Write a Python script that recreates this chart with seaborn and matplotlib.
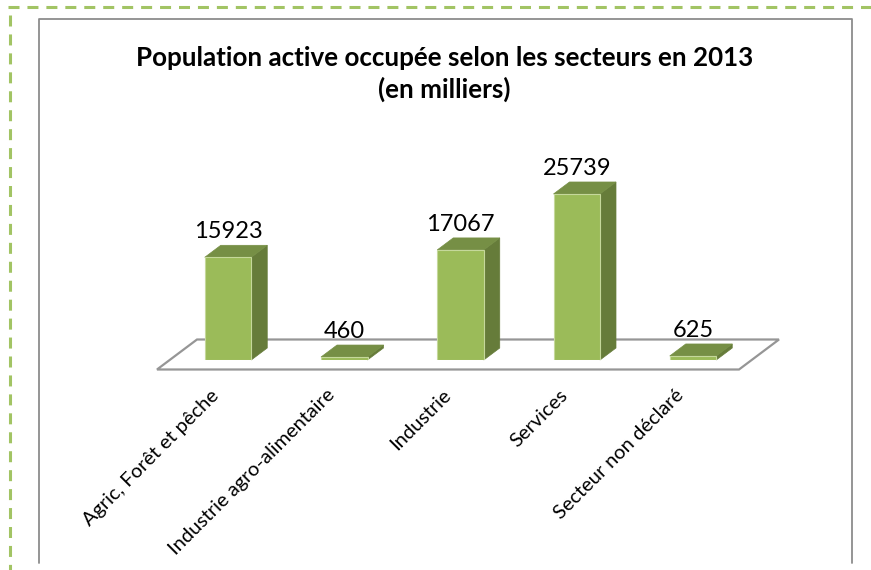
import matplotlib
matplotlib.use("Agg")
import matplotlib.pyplot as plt
from matplotlib.lines import Line2D
from matplotlib.patches import Polygon
from matplotlib.transforms import ScaledTranslation
import seaborn as sns
import pandas as pd

categories = ["Agric, Forêt et pêche", "Industrie agro-alimentaire", "Industrie", "Services", "Secteur non déclaré"]
values = [15923, 460, 17067, 25739, 625]
title = "Population active occupée selon les secteurs en 2013\n(en milliers)"

W, H = 871, 570
sns.set_theme(style="white")
plt.rcParams["font.family"] = ["Lato", "DejaVu Sans"]

fig = plt.figure(figsize=(W / 100, H / 100), dpi=100, facecolor="white")
PX_PER_CAT = 116.25
PX_PER_UNIT = 0.00645
left = 228 - 0.5 * PX_PER_CAT
ax = fig.add_axes([left / W, (H - 360) / H, 5 * PX_PER_CAT / W, 341.5 / H])
ax.patch.set_alpha(0)

df = pd.DataFrame({"secteur": categories, "valeur": values})
sns.barplot(data=df, x="secteur", y="valeur", color="#9BBB59", saturation=1, width=0.4,
            edgecolor="#C5D89B", linewidth=0.8, ax=ax, zorder=3)
ax.set_xlim(-0.5, 4.5)
ax.set_ylim(0, 341.5 / PX_PER_UNIT)
ax.set_xlabel("")
ax.set_ylabel("")
ax.set_yticks([])
for s in ax.spines.values():
    s.set_visible(False)
ax.tick_params(axis="x", length=0, pad=19)
ax.set_xticks(range(len(categories)))
ax.set_xticklabels(categories, rotation=45, ha="right", rotation_mode="anchor",
                   fontsize=14.4, color="black")
shift = ScaledTranslation(-18 / 100, 0, fig.dpi_scale_trans)
for lab in ax.get_xticklabels():
    lab.set_transform(lab.get_transform() + shift)

# depth of the pseudo-3D projection, in data units
dx = 16 / PX_PER_CAT
dy = 12 / PX_PER_UNIT

# floor
fx0 = (157 - 228) / PX_PER_CAT
fx1 = (739 - 228) / PX_PER_CAT
fy0 = -9.5 / PX_PER_UNIT
fdx = 40 / PX_PER_CAT
fdy = 30 / PX_PER_UNIT
ax.add_patch(Polygon([(fx0, fy0), (fx1, fy0), (fx1 + fdx, fy0 + fdy), (fx0 + fdx, fy0 + fdy)],
                     closed=True, facecolor="white", edgecolor="#969696", linewidth=1.6,
                     zorder=1, clip_on=False))

for bar, val in zip(ax.patches[:len(values)], values):
    x0 = bar.get_x()
    x1 = x0 + bar.get_width()
    ax.add_patch(Polygon([(x1, 0), (x1 + dx, dy), (x1 + dx, val + dy), (x1, val)], closed=True,
                         facecolor="#667C3A", edgecolor="#667C3A", linewidth=0.5, zorder=2.5,
                         clip_on=False))
    ax.add_patch(Polygon([(x0, val), (x1, val), (x1 + dx, val + dy), (x0 + dx, val + dy)], closed=True,
                         facecolor="#768F45", edgecolor="#768F45", linewidth=0.5, zorder=2.6,
                         clip_on=False))
    ax.annotate(str(val), xy=(x0 + bar.get_width() / 2, val + dy), xytext=(0, 5),
                textcoords="offset points", ha="center", va="baseline",
                fontsize=17, color="black", zorder=5)

fig.text(444.5 / W, 1 - 74 / H, title, ha="center", va="center", fontsize=18.7,
         fontweight="bold", color="black", linespacing=1.3)

# outer dashed border and inner frame, in figure pixels
def fig_line(xs, ys, **kw):
    fig.add_artist(Line2D([x / W for x in xs], [1 - y / H for y in ys], **kw))

dash = dict(color="#A2C464", linewidth=2.2, linestyle=(0, (3.6, 2.6)), dash_capstyle="butt")
fig_line([8, W], [7, 7], **dash)
fig_line([10, 10], [15, H], **dash)
fig_line([39, 39, 852, 852], [H - 7, 18.5, 18.5, H - 7], color="#8C8C8C", linewidth=1.3)

fig.savefig("out.png", dpi=100)
